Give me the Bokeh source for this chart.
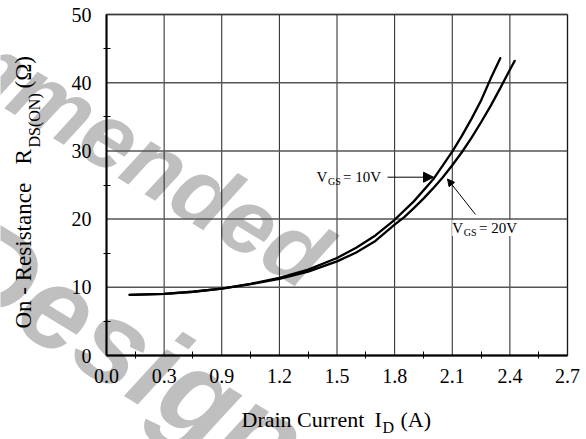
import math

from bokeh.embed import file_html
from bokeh.models import (Arrow, BoxAnnotation, CustomJSTickFormatter,
                          FixedTicker, Label, NormalHead, Range1d)
from bokeh.plotting import figure
from bokeh.resources import INLINE

# On-resistance versus drain current for two gate drives
current_10v = [0.12, 0.3, 0.45, 0.6, 0.75, 0.9, 1.05, 1.2, 1.3, 1.4, 1.5,
               1.6, 1.7, 1.8, 1.85, 1.9, 1.95, 2.0, 2.05]
rds_10v = [8.9, 9.05, 9.35, 9.8, 10.5, 11.4, 12.6, 14.3, 15.8, 17.6, 19.9,
           22.6, 25.8, 29.9, 32.2, 34.7, 37.4, 40.6, 43.6]

current_20v = [0.12, 0.3, 0.45, 0.6, 0.75, 0.9, 1.05, 1.2, 1.3, 1.4, 1.5,
               1.55, 1.6, 1.65, 1.7, 1.75, 1.8, 1.85, 1.9, 1.95, 2.0, 2.05,
               2.1, 2.125]
rds_20v = [8.9, 9.05, 9.35, 9.8, 10.45, 11.25, 12.3, 13.8, 15.1, 16.8, 19.2,
           20.3, 21.6, 23.0, 24.5, 26.1, 27.9, 29.8, 31.9, 34.2, 36.6, 39.2,
           41.9, 43.2]

# axis ticks (grid positions and the labels printed under them)
x_tick_pos = [0.0, 0.3, 0.6, 0.9, 1.2, 1.5, 1.8, 2.1, 2.4]
x_tick_labels = ["0.0", "0.3", "0.9", "1.2", "1.5", "1.8", "2.1", "2.4", "2.7"]
y_ticks = [0, 10, 20, 30, 40, 50]

# page geometry: the plotting box sits at these pixel margins
W, H = 586, 439
LEFT, RIGHT, TOP, BOTTOM = 106, 19, 14, 84
X0, X1 = x_tick_pos[0], x_tick_pos[-1]
Y0, Y1 = y_ticks[0], y_ticks[-1]
SERIF = "Liberation Serif"
WATERMARK_FONT = "Liberation Sans"


def sx(px):
    """pixel column -> data x"""
    return X0 + (px - LEFT) * (X1 - X0) / (W - LEFT - RIGHT)


def sy(py):
    """pixel row -> data y"""
    return Y0 + (H - BOTTOM - py) * (Y1 - Y0) / (H - TOP - BOTTOM)


# the frame fills the whole canvas; axes are pinned at x=0 / y=0
p = figure(width=W, height=H,
           x_range=Range1d(sx(0), sx(W)), y_range=Range1d(sy(H), sy(0)),
           output_backend="svg", toolbar_location=None,
           min_border=0, min_border_left=0, min_border_right=0,
           min_border_top=0, min_border_bottom=0)
p.background_fill_color = "white"
p.border_fill_color = "white"
p.outline_line_color = None
p.xgrid.visible = False
p.ygrid.visible = False

# ---- watermark (lowest layer) ----
for word, px, py, size in (("Recommended", 320, 264, 92), ("Design", 294, 452, 118)):
    p.add_layout(Label(x=sx(px), y=sy(py), text=word, angle=-0.55,
                       text_align="right", text_baseline="alphabetic",
                       text_font=WATERMARK_FONT, text_font_style="bold italic",
                       text_font_size=f"{size}px", text_color="#bfbfbf",
                       level="image"))

# ---- grid ----
p.segment(x0=x_tick_pos, y0=[Y0] * len(x_tick_pos), x1=x_tick_pos,
          y1=[Y1] * len(x_tick_pos), line_color="#222222", line_width=1)
p.segment(x0=[X0] * len(y_ticks), y0=y_ticks, x1=[X1] * len(y_ticks),
          y1=y_ticks, line_color="#555555", line_width=1.5)

# ---- axes ----
x_minor = [(a + b) / 2 for a, b in zip(x_tick_pos[:-1], x_tick_pos[1:])]
y_minor = [(a + b) / 2 for a, b in zip(y_ticks[:-1], y_ticks[1:])]
p.xaxis.ticker = FixedTicker(ticks=x_tick_pos, minor_ticks=x_minor)
p.yaxis.ticker = FixedTicker(ticks=y_ticks, minor_ticks=y_minor)
p.xaxis.formatter = CustomJSTickFormatter(
    args=dict(labels=x_tick_labels, step=0.3),
    code="return labels[Math.round(tick / step)];")
p.xaxis.fixed_location = Y0
p.yaxis.fixed_location = X0
p.xaxis.bounds = (X0, X1)
p.yaxis.bounds = (Y0, Y1)
p.xaxis.major_label_standoff = 10
p.yaxis.major_label_standoff = 12

for ax in (p.xaxis[0], p.yaxis[0]):
    ax.axis_line_color = "black"
    ax.axis_line_width = 2
    ax.major_tick_in = 0
    ax.major_tick_out = 0
    ax.minor_tick_in = 4
    ax.minor_tick_out = 3
    ax.minor_tick_line_color = "black"
    ax.minor_tick_line_width = 1
    ax.major_label_text_font = SERIF
    ax.major_label_text_font_size = "20px"
    ax.major_label_text_color = "black"

# plot border
p.add_layout(BoxAnnotation(left=X0, right=X1, bottom=Y0, top=Y1,
                           fill_color=None, line_color="black", line_width=2))

# ---- curves ----
p.line(current_20v, rds_20v, line_color="black", line_width=2.3, line_cap="round")
p.line(current_10v, rds_10v, line_color="black", line_width=2.3, line_cap="round")


def txt(text, px, py, size, angle=0.0, bg=None):
    """Text with its baseline start at pixel (px, py)."""
    lift = 0.4 * size  # the label box sits below the baseline by about this
    if angle:
        px -= lift
    else:
        py -= lift
    lab = Label(x=sx(px), y=sy(py), text=text, angle=angle,
                text_align="left", text_baseline="alphabetic",
                text_font=SERIF, text_font_size=f"{size}px", text_color="black")
    if bg:
        lab.background_fill_color = bg
    p.add_layout(lab)


# curve callouts
txt("V", 316, 182, 15, bg="white")
txt("= 10V", 342.5, 182, 15, bg="white")
txt("GS", 327.5, 184.5, 10)
p.add_layout(Arrow(x_start=sx(387), y_start=sy(176.7), x_end=sx(433), y_end=sy(176.7),
                   line_color="black", line_width=1,
                   end=NormalHead(size=10, fill_color="black", line_color="black")))

txt("V", 451.7, 233.5, 15, bg="white")
txt("= 20V", 478.5, 233.5, 15, bg="white")
txt("GS", 463.2, 236, 10)
p.add_layout(Arrow(x_start=sx(475), y_start=sy(214), x_end=sx(447), y_end=sy(178.5),
                   line_color="black", line_width=1,
                   end=NormalHead(size=7, fill_color="black", line_color="black")))

# axis titles
txt("Drain Current", 241, 428, 22)
txt("I", 374, 428, 22)
txt("D", 382, 433, 16)
txt("(A)", 400, 428, 22)

up = math.pi / 2
txt("On - Resistance", 32, 328, 23, angle=up)
txt("R", 32, 164, 23, angle=up)
txt("DS(ON)", 40, 147, 16, angle=up)
txt("(\u03a9)", 32, 88, 23, angle=up)

open("out.html", "w").write(file_html(p, INLINE))
